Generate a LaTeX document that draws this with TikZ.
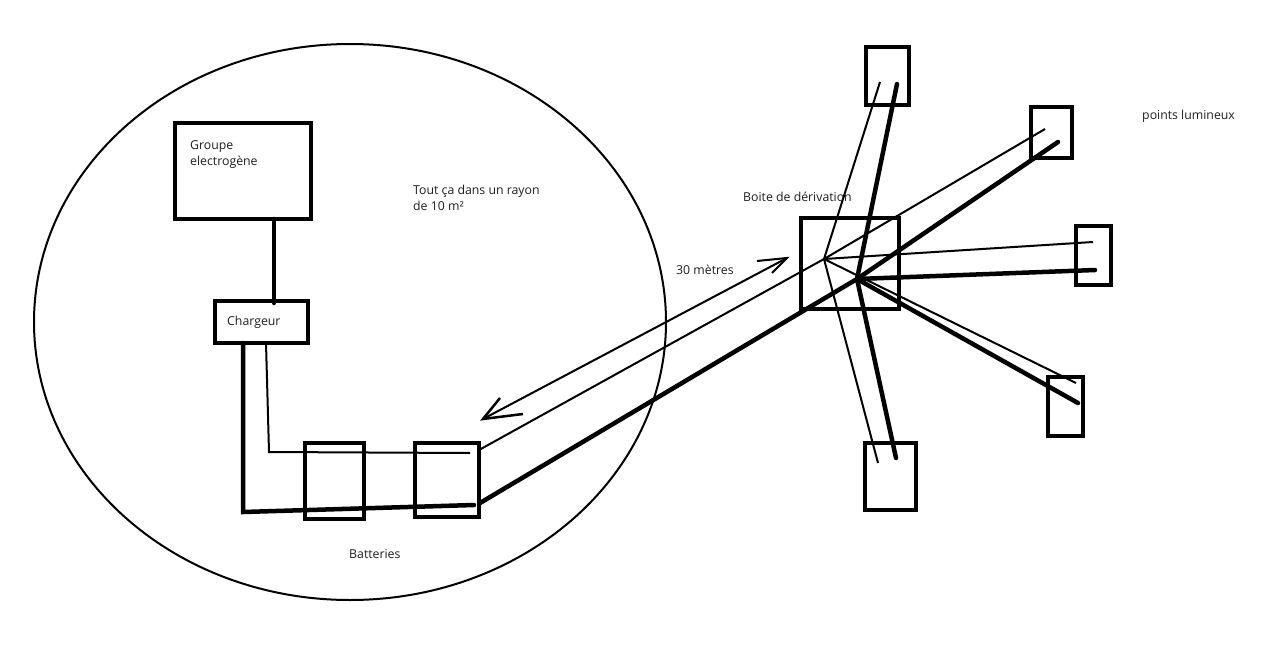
\documentclass[tikz,border=0pt]{standalone}
\usepackage{fontspec}
\usetikzlibrary{shapes.geometric}
\setmainfont{Open Sans}
\definecolor{lab}{gray}{0.12}
\tikzset{
  boxa/.style={draw=black,line width=4pt,fill=none,inner sep=0pt,rectangle},
  thin wire/.style={draw=black,line width=2pt,line join=miter},
  thick wire/.style={draw=black,line width=4.5pt,line join=miter,line cap=round},
  lab/.style={font=\fontsize{12.3}{16}\selectfont,text=lab,anchor=west,inner sep=0pt,align=left},
}
\newcommand{\rbox}[5]{\node[boxa,minimum width={(#4-#2)*1pt},minimum height={(#5-#3)*1pt}] (#1) at ({(#2+#4)/2},{(#3+#5)/2}) {};}
\begin{document}
\begin{tikzpicture}[x=1pt,y=-1pt]
\useasboundingbox (0,0) rectangle (1280,672);
\fill[white] (0,0) rectangle (1280,672);
% enclosing circle
\node[draw=black,line width=2pt,ellipse,minimum width=632pt,minimum height=556pt,inner sep=0pt] (zone) at (350,322) {};
% boxes
\rbox{groupe}{175}{123}{311}{219}
\rbox{chargeur}{215}{301}{308}{343}
\rbox{batA}{305}{443}{364}{519}
\rbox{batB}{415}{443}{479}{517}
\rbox{boite}{801}{218}{899}{309}
\rbox{lampT}{866}{47}{909}{105}
\rbox{lampA}{1031}{107}{1072}{158}
\rbox{lampB}{1076}{226}{1111}{285}
\rbox{lampC}{1048}{377}{1083}{436}
\rbox{lampD}{865}{443}{916}{510}
% junctions and wire ends
\coordinate (T) at (824,259);
\coordinate (J) at (857,279);
\coordinate (tT) at (880,82);
\coordinate (tA) at (1045,129);
\coordinate (tB) at (1093,242);
\coordinate (tC) at (1076,383);
\coordinate (tD) at (878,463);
\coordinate (jT) at (897,84);
\coordinate (jA) at (1058,142);
\coordinate (jB) at (1095,270);
\coordinate (jC) at (1078,403);
\coordinate (jD) at (896,458);
\coordinate (tBat) at (470,453);
\coordinate (jBat) at (474,505);
% wires
\draw[thick wire] (274,219) -- (274,303);
\draw[thin wire] (266,343) -- (269,452) -- (tBat);
\draw[thin wire] (479,450) -- (T);
\draw[thick wire] (243,343) -- (243,512) -- (jBat);
\draw[thick wire] (480,503) -- (J);
\foreach \e in {tT,tA,tB,tC,tD} \draw[thin wire] (T) -- (\e);
\foreach \e in {jT,jA,jB,jC,jD} \draw[thick wire] (J) -- (\e);
% double arrow
\coordinate (arR) at (787,258);
\coordinate (arL) at (483,419);
\draw[thin wire] (arL) -- (arR);
\draw[thin wire] (757,261) -- (arR) -- (772,273);
\draw[thin wire,line width=2.5pt] (500,398) -- (arL) -- (523,414);
% labels
\node[lab] (l1) at (190,155) {Groupe\\electrogène};
\node[lab] (l2) at (227,322) {Chargeur};
\node[lab] (l3) at (413,198) {Tout ça dans un rayon\\de 10 m²};
\node[lab] (l4) at (676,270) {30 mètres};
\node[lab] (l5) at (743,197) {Boite de dérivation};
\node[lab] (l6) at (1142,116.5) {points lumineux};
\node[lab] (l7) at (349,554) {Batteries};
\end{tikzpicture}
\end{document}
